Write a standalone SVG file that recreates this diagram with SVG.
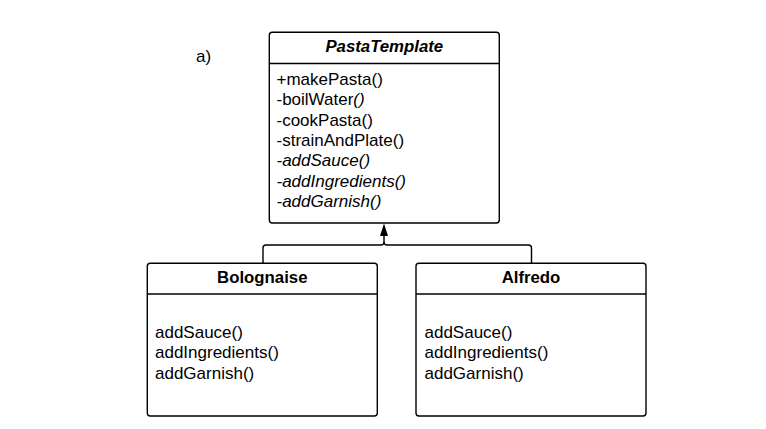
<svg xmlns="http://www.w3.org/2000/svg" width="766" height="429" viewBox="0 0 766 429">
<style>
.box{fill:#fff;stroke:#000;stroke-width:1.4}
.div{stroke:#000;stroke-width:1.4}
.t{font-family:"Liberation Sans",Arial,sans-serif;font-size:17px;fill:#000}
.title{font-weight:bold;text-anchor:middle;font-size:16.8px}
.it{font-style:italic}
.conn{fill:none;stroke:#000;stroke-width:1.4}
.head{fill:#000}
</style>
<rect width="766" height="429" fill="#fff"/>
<text class="t" x="196" y="62">a)</text>
<g id="PastaTemplate">
<rect class="box" x="269.3" y="32.3" width="230" height="190.7" rx="3"/>
<line class="div" x1="269.3" y1="63.5" x2="499.3" y2="63.5"/>
<text class="t title it" x="384.3" y="52">PastaTemplate</text>
<text class="t" x="276.5" y="85">+makePasta()</text>
<text class="t" x="276.5" y="105.3">-boilWater<tspan class="it">()</tspan></text>
<text class="t" x="276.5" y="125.6">-cookPasta()</text>
<text class="t" x="276.5" y="145.9">-strainAndPlate()</text>
<text class="t it" x="276.5" y="166.2">-addSauce()</text>
<text class="t it" x="276.5" y="186.5">-addIngredients()</text>
<text class="t it" x="276.5" y="206.8">-addGarnish()</text>
</g>
<g id="Bolognaise">
<rect class="box" x="147.3" y="263.3" width="230" height="152.7" rx="3"/>
<line class="div" x1="147.3" y1="294" x2="377.3" y2="294"/>
<text class="t title" x="262.3" y="283">Bolognaise</text>
<text class="t" x="155" y="338">addSauce()</text>
<text class="t" x="155" y="358.3">addIngredients()</text>
<text class="t" x="155" y="378.6">addGarnish()</text>
</g>
<g id="Alfredo">
<rect class="box" x="416" y="263.3" width="230" height="152.7" rx="3"/>
<line class="div" x1="416" y1="294" x2="646" y2="294"/>
<text class="t title" x="531" y="283">Alfredo</text>
<text class="t" x="424.5" y="338">addSauce()</text>
<text class="t" x="424.5" y="358.3">addIngredients()</text>
<text class="t" x="424.5" y="378.6">addGarnish()</text>
</g>
<g id="connectors">
<path class="conn" d="M263 263.3 V248 Q263 245 266 245 H381 Q384 245 384 242 V234"/>
<path class="conn" d="M531.5 263.3 V248 Q531.5 245 528.5 245 H387 Q384 245 384 242"/>
<polygon class="head" points="384,223.5 380,236 388,236"/>
</g>
</svg>
